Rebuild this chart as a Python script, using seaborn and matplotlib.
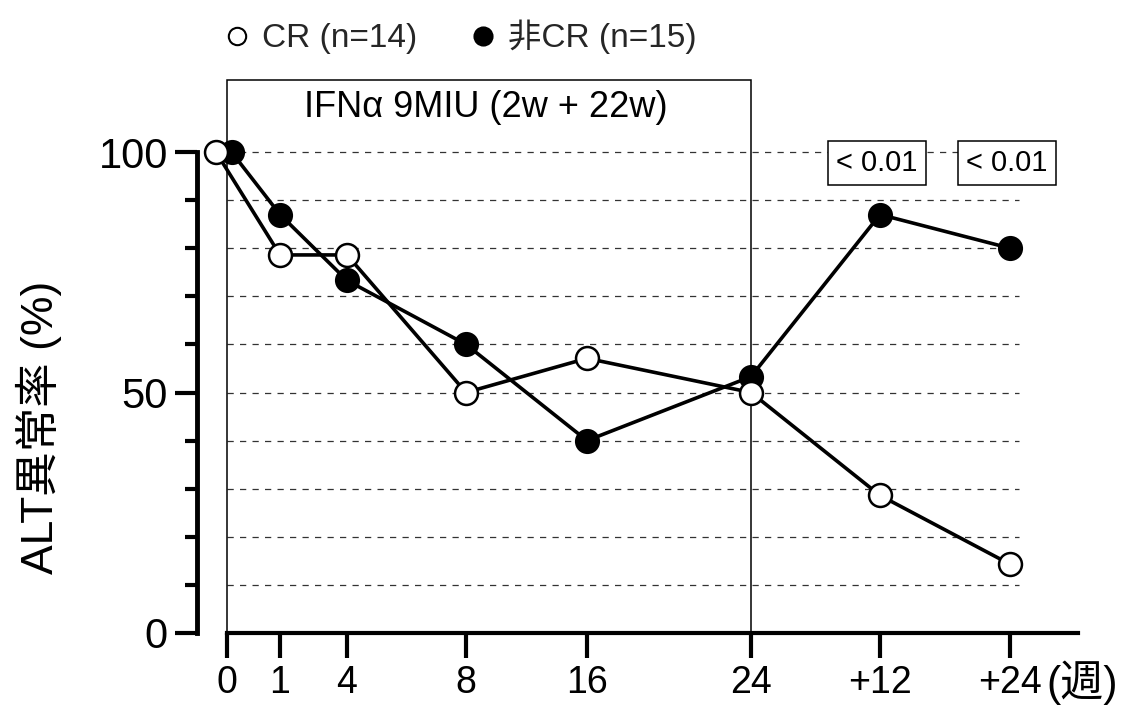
import numpy as np
import pandas as pd
import matplotlib
matplotlib.use("Agg")
import matplotlib.pyplot as plt
from matplotlib.lines import Line2D
from matplotlib.patches import Rectangle
import seaborn as sns

# ---- data ----
week_labels = ["0", "1", "4", "8", "16", "24", "+12", "+24"]
# category positions along the (non-uniform) week axis
week_pos = [0.0, 0.53, 1.20, 2.39, 3.60, 5.24, 6.53, 7.83]
cr_values = [100, 78.6, 78.6, 50.0, 57.1, 50.0, 28.6, 14.3]
noncr_values = [100, 87.0, 73.3, 60.0, 40.0, 53.3, 87.0, 80.0]
legend_labels = ["CR (n=14)", "非CR (n=15)"]
p_labels = ["< 0.01", "< 0.01"]
treatment_label = "IFNα 9MIU (2w + 22w)"
y_label = "ALT異常率 (%)"
unit_label = "(週)"

sns.set_theme(style="white")
plt.rcParams["font.family"] = ["Liberation Sans", "Noto Sans CJK JP", "DejaVu Sans"]

W, H = 1139, 722
fig = plt.figure(figsize=(W / 100, H / 100), dpi=100)
ax_l, ax_r, ax_t, ax_b = 190, 1085, 70, 645
ax = fig.add_axes([ax_l / W, 1 - ax_b / H, (ax_r - ax_l) / W, (ax_b - ax_t) / H])
ax.set_xlim((ax_l - 227) / 100, (ax_r - 227) / 100)
ax.set_ylim((633 - ax_b) / 4.81, (633 - ax_t) / 4.81)

# small dodge of the overlapping first points
dodge0 = {"CR": -0.11, "nonCR": 0.045}

def frame(values, key):
    xs = list(week_pos)
    xs[0] = xs[0] + dodge0[key]
    return pd.DataFrame({"week": xs, "value": values})

# dashed reference lines
grid_levels = np.arange(10, 101, 10)
ax.hlines(grid_levels, week_pos[0], 7.92, colors="#333333", linewidth=0.9,
          linestyles=(0, (5, 5)), zorder=1)

# treatment period box
ax.add_patch(Rectangle((week_pos[0], 0), week_pos[5] - week_pos[0], 115,
                       fill=False, edgecolor="black", linewidth=1.1, zorder=2,
                       clip_on=False))
ax.text((week_pos[0] + week_pos[5]) / 2 - 0.03, 109.2, treatment_label,
        ha="center", va="center", fontsize=26, color="black")

sns.lineplot(data=frame(noncr_values, "nonCR"), x="week", y="value", ax=ax,
             color="black", linewidth=2.6, marker="o", markersize=16.5,
             markerfacecolor="black", markeredgecolor="black",
             markeredgewidth=1.6, sort=False, estimator=None, zorder=4,
             clip_on=False)
sns.lineplot(data=frame(cr_values, "CR"), x="week", y="value", ax=ax,
             color="black", linewidth=2.6, marker="o", markersize=16.5,
             markerfacecolor="white", markeredgecolor="black",
             markeredgewidth=1.8, sort=False, estimator=None, zorder=5,
             clip_on=False)

# p-value boxes
for xp, lab in zip(week_pos[6:], p_labels):
    ax.text(xp - 0.03, 97.7, lab, ha="center", va="center", fontsize=21,
            color="black", zorder=6,
            bbox=dict(boxstyle="square,pad=0.28", facecolor="white",
                      edgecolor="black", linewidth=1.1))

# axes styling
for s in ["top", "right"]:
    ax.spines[s].set_visible(False)
ax.spines["left"].set_position(("data", -0.30))
ax.spines["left"].set_bounds(0, 100)
ax.spines["left"].set_linewidth(3.5)
ax.spines["bottom"].set_position(("data", 0))
ax.spines["bottom"].set_bounds(0, 8.51)
ax.spines["bottom"].set_linewidth(3)
for sp in ax.spines.values():
    sp.set_color("black")

ax.set_yticks([0, 50, 100])
ax.set_yticklabels(["0", "50", "100"])
ax.set_yticks([10, 20, 30, 40, 60, 70, 80, 90], minor=True)
ax.tick_params(axis="y", which="major", direction="out", length=16, width=3,
               labelsize=30, pad=5, left=True, colors="black")
ax.tick_params(axis="y", which="minor", direction="out", length=9, width=3,
               left=True, colors="black")
ax.set_xticks(week_pos)
ax.set_xticklabels(week_labels)
ax.tick_params(axis="x", which="major", direction="out", length=18, width=3,
               labelsize=27, pad=5, bottom=True, colors="black")
ax.grid(False)

ax.set_xlabel("")
ax.set_ylabel(y_label, fontsize=32, color="black")
ax.yaxis.set_label_coords((62 - ax_l) / (ax_r - ax_l), (ax_b - 427) / (ax_b - ax_t))

fig.text(1046 / W, 1 - 683 / H, unit_label, ha="left", va="center",
         fontsize=31, color="black")

# legend
handles = [
    Line2D([], [], linestyle="none", marker="o", markersize=12.5,
           markerfacecolor="white", markeredgecolor="black", markeredgewidth=1.5),
    Line2D([], [], linestyle="none", marker="o", markersize=13,
           markerfacecolor="black", markeredgecolor="black", markeredgewidth=1.5),
]
fig.legend(handles, legend_labels, loc="center left",
           bbox_to_anchor=(224 / W, 1 - 37 / H), bbox_transform=fig.transFigure,
           ncol=2, frameon=False, fontsize=24, handlelength=0.8,
           handletextpad=0.35, columnspacing=1.55, borderpad=0,
           borderaxespad=0)

fig.savefig("out.png", dpi=100)
